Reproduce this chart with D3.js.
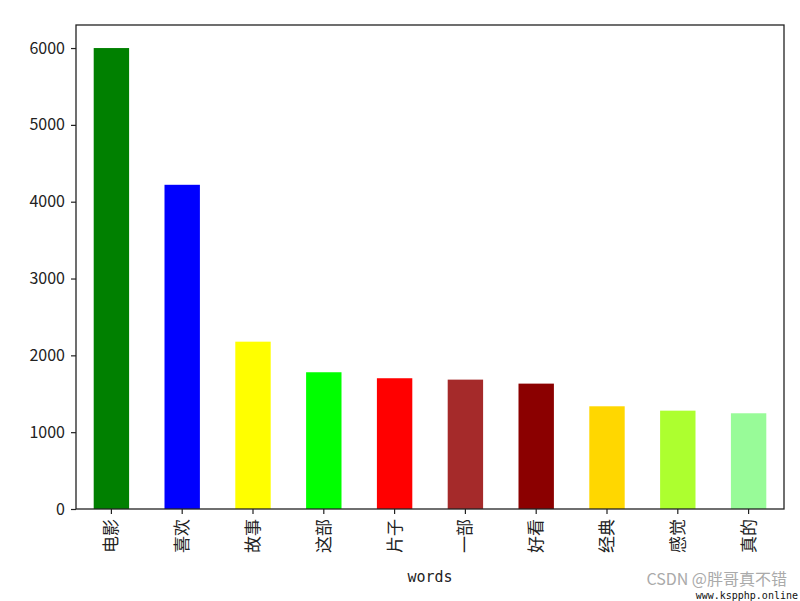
<!DOCTYPE html>
<html><head><meta charset="utf-8">
<script src="https://cdn.jsdelivr.net/npm/d3@7"></script>
<style>body{margin:0;background:#fff}</style>
</head><body>
<svg id="c" width="800" height="601"></svg>
<script>
const categories = ["电影","喜欢","故事","这部","片子","一部","好看","经典","感觉","真的"];
const counts = [6000, 4220, 2178, 1780, 1702, 1684, 1632, 1337, 1280, 1246];
const colors = ["green","blue","yellow","lime","red","brown","darkred","gold","greenyellow","palegreen"];
const yTicks = [0,1000,2000,3000,4000,5000,6000];

const svg = d3.select("#c");
const m = {l:76, r:784, t:25, b:509};
const x = d3.scaleBand().domain(categories).range([m.l, m.r]).paddingInner(0.5).paddingOuter(0.25);
const y = d3.scaleLinear().domain([0, 6300]).range([m.b, m.t]);
const font = "'Noto Sans CJK SC', 'Noto Sans', sans-serif";

svg.append("g").selectAll("rect").data(categories).join("rect")
  .attr("x", d => x(d)).attr("width", x.bandwidth())
  .attr("y", (d,i) => y(counts[i])).attr("height", (d,i) => y(0) - y(counts[i]))
  .attr("fill", (d,i) => colors[i]);

svg.append("rect").attr("x", m.l).attr("y", m.t).attr("width", m.r-m.l).attr("height", m.b-m.t)
  .attr("fill","none").attr("stroke","#222").attr("stroke-width",1.3);

const ya = svg.append("g").attr("transform", `translate(${m.l},0)`)
  .call(d3.axisLeft(y).tickValues(yTicks).tickSize(5).tickPadding(6).tickFormat(d3.format("d")));
ya.select(".domain").remove();
ya.selectAll("line").attr("stroke","#222").attr("stroke-width",1.2);
ya.selectAll("text").attr("font-family", font).attr("font-size", 16).attr("fill","#222");

const xa = svg.append("g").attr("transform", `translate(0,${m.b})`)
  .call(d3.axisBottom(x).tickSize(5).tickPadding(6));
xa.select(".domain").remove();
xa.selectAll("line").attr("stroke","#222").attr("stroke-width",1.2);
xa.selectAll("text").attr("font-family", font).attr("font-size", 17).attr("fill","#222")
  .attr("transform","rotate(-90)").attr("text-anchor","end").attr("dy","0.35em")
  .attr("x",-10).attr("y",0);

svg.append("text").attr("x",(m.l+m.r)/2).attr("y",582).attr("text-anchor","middle")
  .attr("font-family","'DejaVu Sans Mono', monospace").attr("font-size",15).attr("fill","#222").text("words");

svg.append("text").attr("x",787).attr("y",585).attr("text-anchor","end")
  .attr("font-family",font).attr("font-size",16).attr("fill","#aaa").text("CSDN @胖哥真不错");
svg.append("text").attr("x",798).attr("y",599).attr("text-anchor","end")
  .attr("font-family","'DejaVu Sans Mono', monospace").attr("font-size",10).attr("fill","#111").text("www.kspphp.online");
</script>
</body></html>
